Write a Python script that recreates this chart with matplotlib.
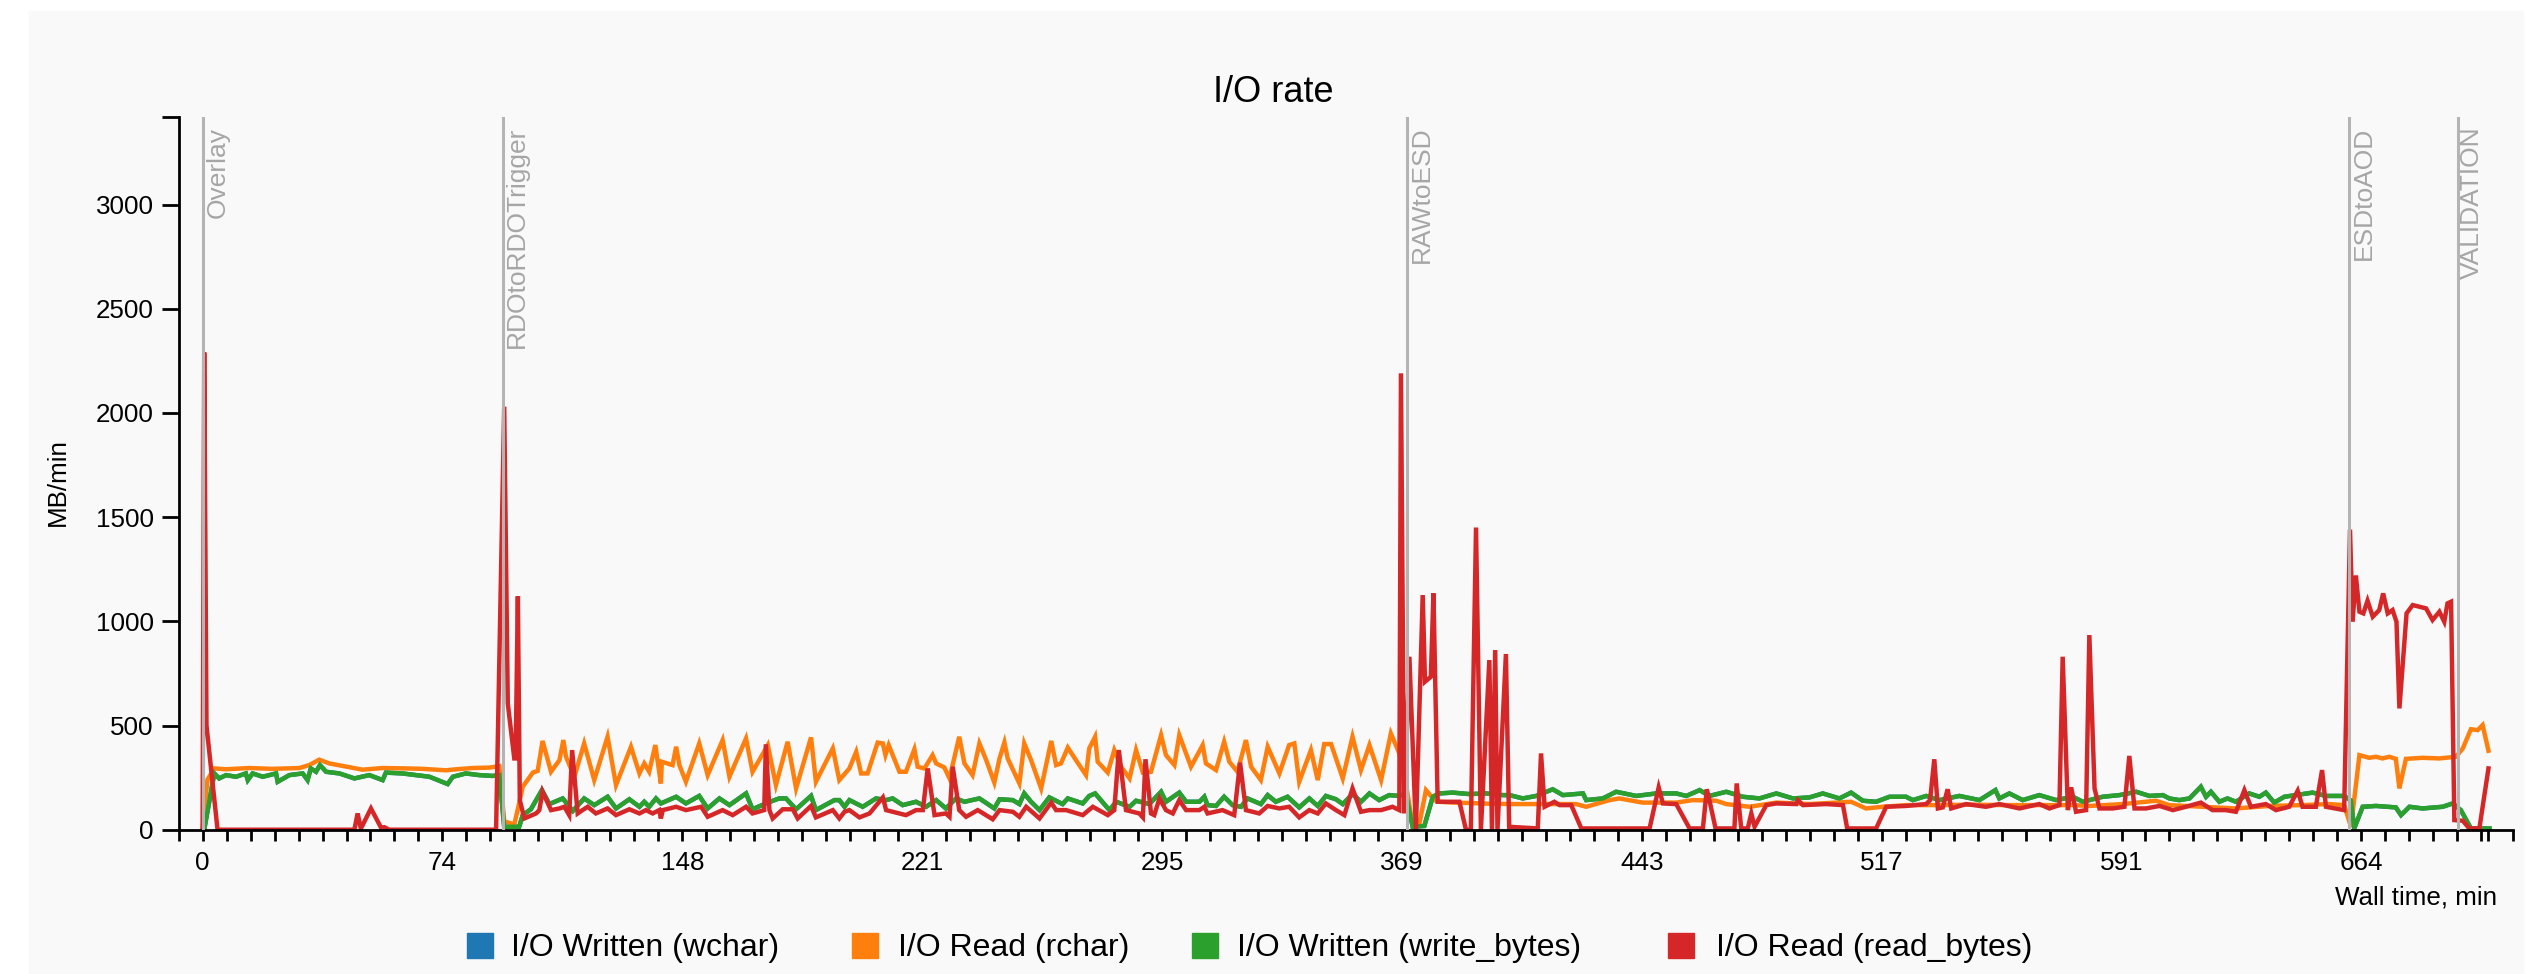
import matplotlib
matplotlib.use('Agg')
import matplotlib.pyplot as plt
from matplotlib.patches import Rectangle

plt.rcParams['font.family'] = ['Liberation Sans', 'DejaVu Sans']

# (wall time [min], rate [MB/min])
rchar = [(0.0, 0), (1.5, 240), (3.6, 294), (7.2, 290), (14.4, 296), (21.5, 292), (29.8, 296), (32.8, 310),
         (35.9, 336), (39.0, 318), (45.1, 300), (49.2, 288), (55.4, 296), (62.6, 294), (67.7, 292), (74.9, 285),
         (78.0, 290), (83.1, 296), (88.2, 298), (91.3, 305), (92.8, 40), (95.9, 25), (97.5, 134),
         (98.5, 206), (101.6, 274), (103.1, 282), (104.6, 426), (107.2, 278), (109.8, 334), (111.0, 430),
         (111.8, 350), (114.4, 254), (117.4, 414), (120.5, 238), (124.6, 446), (127.2, 214), (131.8, 398),
         (134.4, 270), (135.9, 318), (137.4, 278), (139.3, 406), (141.0, 222), (141.3, 326), (144.6, 310),
         (145.7, 398), (146.7, 310), (148.7, 230), (152.8, 414), (155.4, 262), (160.0, 430), (162.1, 254),
         (167.2, 438), (169.2, 278), (173.9, 406), (176.4, 214), (180.0, 422), (182.6, 198), (187.2, 443),
         (188.7, 230), (193.9, 390), (195.9, 238),
         (199.0, 294), (201.1, 374), (202.6, 270), (204.6, 270), (207.7, 418), (209.3, 414), (210.1, 358),
         (211.1, 406), (214.4, 278), (216.4, 278), (219.0, 386), (220.0, 302), (222.1, 294), (224.6, 358),
         (225.7, 318), (228.2, 299), (229.8, 246), (232.8, 446), (234.4, 318), (236.9, 262), (239.0, 414),
         (241.1, 334), (243.6, 226), (245.2, 342), (246.7, 419), (247.7, 342), (251.3, 222), (252.8, 414),
         (254.9, 334), (258.0, 198), (261.1, 426), (262.6, 310), (264.1, 318), (266.2, 394), (268.7, 334),
         (271.8, 262), (272.8, 390), (274.6, 446), (275.4, 326), (278.5, 274), (280.5, 382), (282.6, 302),
         (285.2, 246), (287.2, 382), (289.3, 274), (291.8, 278), (294.9, 454), (296.4, 358), (299.0, 310),
         (300.5, 454),
         (304.1, 302), (307.7, 406), (308.7, 318), (311.8, 286), (314.3, 422), (315.9, 326), (318.4, 278),
         (321.0, 430), (322.6, 302), (325.6, 238), (327.7, 398), (331.3, 270), (334.3, 406), (335.9, 414),
         (337.4, 230), (341.0, 382), (343.1, 238), (345.1, 411), (347.2, 411), (350.8, 246), (353.8, 446),
         (356.4, 286), (359.0, 406), (362.6, 238), (365.6, 462), (368.2, 366), (370.2, 222), (372.3, 22),
         (374.3, 22), (376.4, 190), (379.0, 142), (380.5, 134), (384.6, 130), (390.0, 128), (395.0, 125),
         (400.0, 124),
         (402.1, 123), (422.6, 123), (425.7, 110), (432.9, 142), (435.9, 150), (443.1, 130), (453.4, 130),
         (458.5, 142), (465.7, 139), (468.8, 123), (475.9, 110), (484.2, 130), (494.4, 123),
         (507.2, 134), (511.8, 102), (516.9, 110), (524.1, 118), (534.4, 118), (544.6, 120), (554.9, 118),
         (565.1, 118), (575.4, 118), (580.5, 114), (590.8, 123), (601.0, 139),
         (605.1, 118), (615.4, 110), (625.6, 102), (635.9, 114), (646.1, 118), (654.3, 123), (658.9, 118),
         (661.0, 14), (663.6, 358), (666.6, 345), (668.7, 350), (670.7, 342), (672.8, 350), (674.8, 340),
         (675.9, 198), (677.9, 340), (683.0, 345), (688.2, 342), (693.3, 350), (695.4, 390), (697.9, 482),
         (700.0, 478), (701.5, 502), (703.3, 379)]

write_bytes = [(0.5, 0), (3.6, 270), (5.1, 246), (7.2, 262), (10.3, 254), (13.3, 270), (13.9, 238), (15.4, 270),
               (18.5, 254), (22.6, 270), (23.1, 230), (26.7, 262), (30.8, 270), (32.3, 238), (33.3, 294),
               (34.9, 278), (36.1, 310), (38.0, 278), (42.1, 270), (46.7, 246), (51.3, 262), (55.4, 238),
               (56.4, 274), (61.5, 270), (65.7, 262), (69.8, 254), (75.4, 219), (77.0, 254), (81.0, 270),
               (85.1, 262), (89.2, 258), (91.3, 262), (92.8, 14), (97.4, 14), (98.5, 70), (101.0, 98),
               (104.4, 190), (106.7, 123), (110.8, 150), (113.9, 90), (117.4, 150), (120.5, 118), (124.6, 158),
               (127.2, 102), (131.3, 146), (134.4, 110), (135.9, 134), (137.4, 110), (139.5, 150), (141.0, 126),
               (145.7, 158), (148.7, 126), (152.8, 162), (155.4, 102), (159.0, 150), (162.1, 118), (167.2, 174),
               (169.2, 98), (173.9, 130), (177.4, 150), (179.5, 150), (182.6, 98), (187.2, 162), (188.7, 94),
               (194.4, 142), (195.9, 142), (197.5, 110),
               (199.0, 142), (203.1, 110), (207.2, 150), (210.3, 142), (212.3, 150), (215.4, 118), (219.5, 134),
               (222.6, 110), (225.7, 142), (228.7, 102), (231.8, 150), (234.4, 134), (239.0, 150), (243.6, 102),
               (245.2, 146), (249.3, 142), (251.3, 123), (252.8, 174), (254.9, 134), (257.5, 94), (260.5, 155),
               (264.6, 123), (266.2, 150), (270.8, 126), (272.8, 162), (274.6, 174), (279.0, 94), (281.1, 134),
               (285.2, 110), (287.2, 139), (291.3, 123), (294.9, 182), (296.4, 134), (300.5, 178),
               (302.6, 134), (306.7, 134), (308.2, 158), (309.2, 118), (311.8, 114), (314.3, 158), (316.9, 118),
               (319.5, 110), (321.5, 150), (325.6, 123), (327.7, 166), (330.2, 134), (333.8, 158), (337.4, 107),
               (340.5, 150), (343.1, 114), (345.6, 162), (348.7, 146), (350.8, 123), (353.8, 171), (356.4, 134),
               (359.0, 174), (362.0, 142), (365.1, 166), (368.2, 162), (370.2, 174), (372.3, 14), (375.9, 18),
               (378.5, 158), (380.5, 174), (384.6, 178), (389.7, 171), (394.9, 174), (400.0, 166),
               (402.1, 166), (406.2, 150), (410.3, 162), (415.4, 194), (418.5, 166), (424.7, 174), (425.7, 142),
               (430.8, 150), (434.9, 182), (441.1, 162), (447.2, 174), (453.4, 174), (456.5, 162), (460.6, 190),
               (463.6, 162), (468.8, 182), (473.9, 158), (479.0, 150), (484.2, 174), (489.3, 150), (494.4, 155),
               (498.5, 174), (503.6, 150),
               (507.2, 178), (510.8, 139), (514.9, 134), (519.0, 158), (524.1, 158), (526.2, 142), (530.3, 162),
               (534.4, 142), (540.5, 162), (546.7, 142), (551.6, 190), (552.8, 150), (555.9, 174), (560.0, 142),
               (565.1, 166), (570.3, 142), (575.4, 158), (578.5, 134), (584.6, 158), (589.8, 166), (594.9, 182),
               (599.0, 162), (603.1, 166),
               (605.1, 150), (608.2, 142), (611.3, 150), (614.8, 206), (616.4, 158), (617.9, 182), (620.5, 134),
               (623.0, 150), (625.6, 134), (629.7, 174), (632.8, 158), (634.8, 178), (637.4, 130), (640.5, 158),
               (646.1, 171), (649.2, 178), (653.3, 162), (658.9, 162), (661.0, 139), (662.0, 6), (664.6, 110),
               (668.7, 114), (674.8, 107), (676.4, 70), (679.0, 110), (683.0, 102), (689.2, 110), (692.3, 126),
               (694.8, 94), (697.9, 6), (703.6, 6)]

# wchar sits exactly under write_bytes in the picture
wchar = list(write_bytes)

read_bytes = [(0.0, 0), (0.5, 2290), (1.2, 500), (4.6, 0), (46.7, 0), (47.7, 78), (48.7, 5), (51.8, 102),
              (54.9, 10), (55.9, 12), (57.4, 0), (90.3, 0), (92.8, 2030), (93.9, 606), (95.9, 342), (96.3, 342),
              (97.0, 1120), (97.6, 142), (99.0, 54), (102.6, 78), (103.6, 94), (104.6, 182), (107.2, 94),
              (109.8, 102), (111.3, 110), (112.8, 70), (113.7, 382), (115.4, 78), (116.9, 94), (118.5, 110),
              (121.0, 78), (124.6, 102), (127.2, 70), (131.3, 98), (134.4, 78), (136.4, 94), (138.5, 78),
              (140.5, 94), (141.0, 54), (141.6, 94), (145.7, 110), (148.7, 94), (153.4, 110), (155.4, 62),
              (160.0, 94), (163.1, 70), (167.2, 110), (169.2, 78), (172.8, 94), (173.3, 410), (174.4, 94),
              (175.4, 54), (178.5, 98), (181.6, 98), (183.1, 54), (187.2, 114), (188.7, 59), (193.9, 94),
              (195.9, 54), (197.5, 86),
              (199.0, 94), (202.1, 59), (205.2, 78), (209.3, 155), (210.3, 94), (214.4, 78), (216.4, 70),
              (219.5, 94), (221.6, 94), (223.1, 294), (225.2, 70), (228.7, 78), (229.8, 62), (230.8, 302),
              (232.8, 94), (234.9, 62), (238.5, 94), (243.1, 50), (245.2, 94), (249.3, 86), (251.3, 62),
              (253.4, 110), (257.5, 54), (261.1, 130), (262.6, 94), (265.7, 94), (270.8, 70), (273.9, 110),
              (278.5, 70), (280.5, 94), (281.9, 382), (284.1, 94), (288.2, 78), (289.3, 59), (290.1, 338),
              (291.8, 78), (292.8, 70), (294.4, 150), (296.4, 94), (298.5, 78), (300.5, 142),
              (302.6, 94), (306.7, 94), (308.2, 110), (309.2, 78), (313.8, 94), (317.4, 70), (319.2, 322),
              (321.0, 94), (325.1, 78), (327.7, 114), (331.3, 102), (334.3, 110), (337.4, 59), (340.5, 94),
              (343.1, 78), (345.6, 126), (348.7, 94), (351.3, 70), (353.8, 198), (356.4, 86), (359.0, 94),
              (362.6, 94), (366.1, 110), (368.2, 94), (368.7, 2190), (369.7, 78), (371.3, 830), (373.3, 0),
              (375.4, 1126), (376.1, 710), (377.9, 734), (378.7, 1134), (380.0, 134), (386.7, 134), (388.7, 0),
              (390.2, 0), (391.8, 1450), (393.3, 0), (395.9, 814), (396.7, 0), (397.7, 862), (398.4, 0),
              (401.0, 843), (402.0, 14),
              (410.8, 6), (411.8, 366), (412.9, 110), (415.9, 134), (417.5, 118), (421.1, 118), (424.2, 6),
              (445.2, 6), (448.0, 203), (449.3, 126), (453.4, 123), (457.5, 6), (461.6, 6), (462.8, 194),
              (463.6, 142), (465.5, 6), (471.3, 6), (472.0, 222), (473.4, 6), (475.4, 6), (476.5, 78),
              (477.5, 14), (481.1, 118), (484.2, 126), (490.3, 123), (490.8, 142), (492.4, 118), (499.5, 123),
              (504.7, 118), (506.0, 6),
              (514.9, 6), (518.0, 110), (524.1, 114), (530.3, 123), (531.5, 142), (532.8, 338), (533.9, 102),
              (535.4, 107), (536.9, 194), (538.0, 102), (542.6, 123), (548.7, 110), (552.8, 123), (559.0, 102),
              (565.1, 123), (568.2, 102), (571.3, 118), (572.3, 830), (573.9, 94), (574.9, 203), (576.4, 86),
              (579.5, 94), (580.5, 934), (582.1, 198), (583.6, 102), (587.7, 102), (591.3, 110), (592.8, 354),
              (594.4, 102), (597.9, 102), (602.1, 114), (606.2, 94),
              (610.2, 110), (614.8, 130), (618.4, 94), (622.5, 94), (625.6, 86), (628.2, 190), (630.2, 110),
              (634.8, 123), (637.9, 94), (642.0, 110), (644.6, 187), (646.1, 110), (650.2, 110), (652.1, 286),
              (653.3, 110), (658.9, 94), (660.7, 1440), (661.5, 998), (662.5, 1220), (663.6, 1046),
              (664.8, 1038), (666.1, 1099), (667.7, 1022), (669.7, 1054), (670.9, 1134), (672.3, 1038),
              (673.8, 1054), (675.0, 998), (675.9, 582), (678.1, 1038), (680.0, 1078), (684.1, 1062),
              (686.1, 1006), (688.2, 1046), (689.7, 998), (690.7, 1086), (691.8, 1094), (692.8, 46),
              (695.4, 43), (697.4, 6), (700.5, 6), (703.3, 294)]

series_names = ['I/O Written (wchar)', 'I/O Read (rchar)', 'I/O Written (write_bytes)', 'I/O Read (read_bytes)']
series_colors = ['#1f77b4', '#ff7f0e', '#2ca02c', '#d62728']

phase_names = ['Overlay', 'RDOtoRDOTrigger', 'RAWtoESD', 'ESDtoAOD', 'VALIDATION']
phase_starts = [0.0, 92.3, 370.5, 660.5, 693.8]

x_tick_step = 7.38
x_tick_labels = ['0', '74', '148', '221', '295', '369', '443', '517', '591', '664']
y_ticks = [0, 500, 1000, 1500, 2000, 2500, 3000]

bg = '#f9f9f9'
fig = plt.figure(figsize=(25.46, 9.74), dpi=100, facecolor='white')
fig.patches.append(Rectangle((29 / 2546, 0), (2523 - 29) / 2546, 1 - 11 / 974,
                             transform=fig.transFigure, figure=fig, color=bg, zorder=-10))
ax = fig.add_axes([0.07015, 0.14815, 0.98723 - 0.07015, 0.87988 - 0.14815])
ax.set_facecolor(bg)

for data, color in zip([wchar, rchar, write_bytes, read_bytes], series_colors):
    t, v = zip(*data)
    ax.plot(t, v, color=color, lw=3.2, solid_joinstyle='miter', zorder=2)

for name, start in zip(phase_names, phase_starts):
    ax.axvline(start, color='#b4b4b4', lw=2.2, zorder=3)
    ax.annotate(name, xy=(start, 1), xycoords=('data', 'axes fraction'), xytext=(2, -7),
                textcoords='offset points', rotation=90, ha='left', va='top',
                color='#a6a6a6', fontsize=19)

x_min, x_max = -x_tick_step, 711.0
y_max = 3420
ax.set_xlim(x_min, x_max)
ax.set_ylim(0, y_max)

xt = [k * x_tick_step for k in range(-1, 96)] + [703.3, x_max]
xl = []
for k in range(-1, 96):
    xl.append(x_tick_labels[k // 10] if k >= 0 and k % 10 == 0 else '')
xl += ['', '']
ax.set_xticks(xt, xl)
ax.set_yticks(y_ticks + [y_max], [str(y) for y in y_ticks] + [''])

for s in ['top', 'right']:
    ax.spines[s].set_visible(False)
for s in ['left', 'bottom']:
    ax.spines[s].set_linewidth(2.0)
ax.tick_params(axis='both', width=2.0, labelsize=18.7, colors='black')
ax.tick_params(axis='x', length=8, pad=7)
ax.tick_params(axis='y', length=12, pad=6)

fig.text(0.5, 0.905, 'I/O rate', ha='center', va='center', fontsize=26)
fig.text(58 / 2546, 0.505, 'MB/min', rotation=90, ha='center', va='center', fontsize=18.7)
fig.text(2497 / 2546, 1 - 898 / 974, 'Wall time, min', ha='right', va='center', fontsize=18.7)

# legend row
square_x = [467, 852, 1192, 1668]
text_x = [511, 898, 1237, 1716]
for name, color, sx, tx in zip(series_names, series_colors, square_x, text_x):
    fig.patches.append(Rectangle((sx / 2546, 1 - 958 / 974), 26 / 2546, 25 / 974,
                                 transform=fig.transFigure, figure=fig, color=color))
    fig.text(tx / 2546, 1 - 948 / 974, name, ha='left', va='center', fontsize=23)

fig.savefig('out.png', dpi=100, facecolor=fig.get_facecolor())
